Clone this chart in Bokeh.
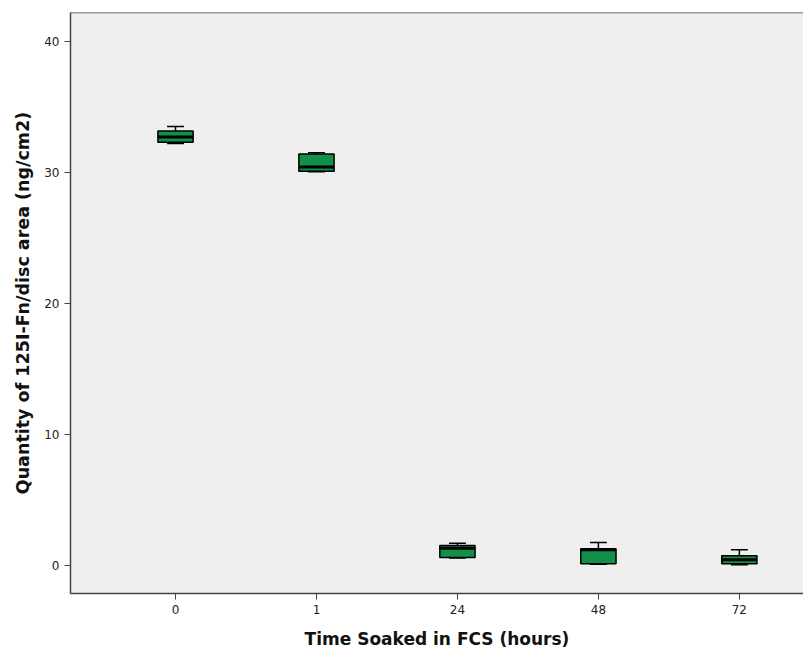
from bokeh.plotting import figure
from bokeh.models import ColumnDataSource, FixedTicker, Range1d, Span
from bokeh.embed import file_html
from bokeh.resources import INLINE

categories = ["0", "1", "24", "48", "72"]
upper = [33.5, 31.5, 1.70, 1.76, 1.20]
q3 = [33.15, 31.4, 1.53, 1.27, 0.74]
median = [32.7, 30.4, 1.32, 1.20, 0.44]
q1 = [32.3, 30.08, 0.61, 0.13, 0.13]
lower = [32.2, 30.05, 0.56, 0.10, 0.05]
y_ticks = [0, 10, 20, 30, 40]

xs = list(range(len(categories)))
box_w = 0.25
cap_w = 0.12

src = ColumnDataSource(dict(
    x=xs, upper=upper, q3=q3, median=median, q1=q1, lower=lower,
    bl=[x - box_w / 2 for x in xs], br=[x + box_w / 2 for x in xs],
    cl=[x - cap_w / 2 for x in xs], cr=[x + cap_w / 2 for x in xs],
))

p = figure(width=803, height=653, output_backend="svg", toolbar_location=None,
           x_range=Range1d(-0.745, 4.455), y_range=Range1d(-2.14, 42.2),
           min_border_left=70, min_border_top=12, min_border_bottom=60,
           min_border_right=0, background_fill_color="#efefef",
           border_fill_color="white", outline_line_color=None)
p.grid.visible = False

# top frame line
p.add_layout(Span(location=42.2, dimension="width", line_color="#444444", line_width=1.5))

# whiskers
p.segment(x0="x", y0="q3", x1="x", y1="upper", source=src, line_color="black", line_width=1.5)
p.segment(x0="x", y0="q1", x1="x", y1="lower", source=src, line_color="black", line_width=1.5)
p.segment(x0="cl", y0="upper", x1="cr", y1="upper", source=src, line_color="black", line_width=1.5)
p.segment(x0="cl", y0="lower", x1="cr", y1="lower", source=src, line_color="black", line_width=1.5)
# boxes
p.vbar(x="x", width=box_w, bottom="q1", top="q3", source=src,
       fill_color="#128f48", line_color="black", line_width=1.5)
# medians
p.segment(x0="bl", y0="median", x1="br", y1="median", source=src, line_color="black", line_width=3)

p.xaxis.ticker = FixedTicker(ticks=xs)
p.xaxis.major_label_overrides = {x: c for x, c in zip(xs, categories)}
p.yaxis.ticker = FixedTicker(ticks=y_ticks)
p.xaxis.minor_tick_line_color = None
p.yaxis.minor_tick_line_color = None

for ax in (p.xaxis, p.yaxis):
    ax.axis_line_color = "#444444"
    ax.axis_line_width = 1.5
    ax.major_tick_line_color = "#444444"
    ax.major_tick_in = 0
    ax.major_tick_out = 6
    ax.major_label_text_font = "DejaVu Sans"
    ax.major_label_text_font_size = "12px"
    ax.major_label_text_color = "#222222"
    ax.axis_label_text_font = "DejaVu Sans"
    ax.axis_label_text_font_style = "bold"
    ax.axis_label_text_color = "#111111"

p.xaxis.axis_label_text_font_size = "17px"
p.yaxis.axis_label_text_font_size = "17.5px"
p.xaxis.axis_label = "Time Soaked in FCS (hours)"
p.yaxis.axis_label = "Quantity of 125I-Fn/disc area (ng/cm2)"
p.xaxis.axis_label_standoff = 12
p.yaxis.axis_label_standoff = 8

open("out.html", "w").write(file_html(p, INLINE))
